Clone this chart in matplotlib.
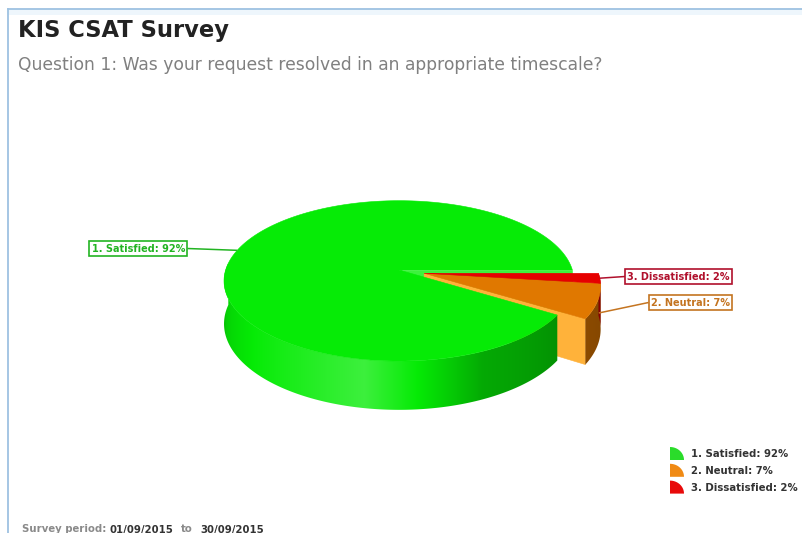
import numpy as np
import matplotlib
matplotlib.use("Agg")
import matplotlib.pyplot as plt
from matplotlib.patches import Polygon
from matplotlib.colors import to_rgb

# ---- data -------------------------------------------------------------
categories = ["1. Satisfied", "2. Neutral", "3. Dissatisfied"]
values = [92, 7, 2]
explode = [0.0, 0.15, 0.15]
slice_colors = ["#06EB06", "#E07800", "#E60000"]
cut_face_colors = ["#3CF23C", "#FFB23A", "#FF4A4A"]
label_colors = ["#22B422", "#C47420", "#B0102C"]
legend_colors = ["#2ADC2A", "#F08A14", "#E80A0A"]
title = "KIS CSAT Survey"
subtitle = "Question 1: Was your request resolved in an appropriate timescale?"
period_start = "01/09/2015"
period_end = "30/09/2015"

W, H = 803, 533
fig = plt.figure(figsize=(W / 100, H / 100), dpi=100)
ax = fig.add_axes([0, 0, 1, 1])
ax.axis("off")

# ---- simple perspective camera for the 3D pie ---------------------------
TILT = np.radians(27.0)
DIST = 6.57
FOCAL = 1139.0
CX, CY = 399.0, 270.0
THICK = 0.273
sT, cT = np.sin(TILT), np.cos(TILT)
CAM = np.array([0.0, DIST * cT, DIST * sT])


def project(X, Y, frac=0.0):
    """Project a point of the top face; frac moves it straight down the side
    (0 = top rim, 1 = bottom rim), keeping the side edges vertical."""
    X = np.asarray(X, float)
    Y = np.asarray(Y, float)
    depth = DIST - Y * cT
    sx = CX + FOCAL * X / depth
    sy = CY + FOCAL * Y * sT / depth + frac * FOCAL * THICK * cT / depth
    return sx, sy


def depth_of(X, Y):
    return DIST - Y * cT


def shade(color, f):
    rgb = np.array(to_rgb(color))
    if f < 0:
        return rgb * (1 + f)
    return rgb + (1 - rgb) * f


# wall lighting by angle (0 = right, 90 = front)
wall_theta = [0, 32, 65, 85, 100, 120, 150, 180]
wall_light = [-0.42, -0.38, -0.28, 0.0, 0.22, 0.10, -0.05, -0.20]

total = float(sum(values))
bounds = []
start = 360.0
for v in values:
    span = v / total * 360.0
    bounds.append((start - span, start))
    start -= span

exp_idx = [i for i, e in enumerate(explode) if e > 0]
lo = min(bounds[i][0] for i in exp_idx)
hi = max(bounds[i][1] for i in exp_idx)
mid = np.radians((lo + hi) / 2)
offsets = [(e * np.cos(mid), e * np.sin(mid)) for e in explode]

n = len(values)

# radial cut faces, painted back to front
faces = []
for i, (t0, t1) in enumerate(bounds):
    ox, oy = offsets[i]
    for t, sgn, nb in ((t0, -1, (i + 1) % n), (t1, +1, (i - 1) % n)):
        if offsets[nb] == offsets[i]:
            continue
        tr = np.radians(t)
        nr = np.radians(t + sgn * 90)
        normal = np.array([np.cos(nr), np.sin(nr), 0.0])
        cen = np.array([ox + 0.5 * np.cos(tr), oy + 0.5 * np.sin(tr), -THICK / 2])
        if normal @ (CAM - cen) <= 0:
            continue
        Xs = np.array([ox, ox + np.cos(tr), ox + np.cos(tr), ox])
        Ys = np.array([oy, oy + np.sin(tr), oy + np.sin(tr), oy])
        fr = np.array([0, 0, 1, 1])
        px, py = project(Xs, Ys, fr)
        faces.append((depth_of(cen[0], cen[1]), np.column_stack([px, py]),
                      cut_face_colors[i]))

faces.sort(key=lambda f: -f[0])
z = 2
for _, poly, col in faces:
    ax.add_patch(Polygon(poly, closed=True, fc=col, ec=col, lw=0.4, zorder=z))
    z += 0.01

# outer walls: gradient image clipped to the wall outline
for i, (t0, t1) in enumerate(bounds):
    ox, oy = offsets[i]
    a, b = max(t0, 0.0), min(t1, 185.0)
    if b <= a:
        continue
    ts = np.linspace(a, b, 400)
    tr = np.radians(ts)
    xt, yt = project(ox + np.cos(tr), oy + np.sin(tr), 0.0)
    xb, yb = project(ox + np.cos(tr), oy + np.sin(tr), 1.0)
    outline = np.column_stack([np.concatenate([xt, xb[::-1]]),
                               np.concatenate([yt, yb[::-1]])])
    clip = Polygon(outline, closed=True, fc="none", ec="none", transform=ax.transData)
    ax.add_patch(clip)
    x_lo, x_hi = outline[:, 0].min() - 1, outline[:, 0].max() + 1
    y_lo, y_hi = outline[:, 1].min() - 1, outline[:, 1].max() + 1
    cols_x = np.linspace(x_lo, x_hi, max(int((x_hi - x_lo) * 2), 4))
    front = ts <= 180.0
    order = np.argsort(xb[front])
    theta_at_x = np.interp(cols_x, xb[front][order], ts[front][order])
    light = np.interp(theta_at_x, wall_theta, wall_light)
    img = np.array([shade(slice_colors[i], f) for f in light])[None, :, :]
    im = ax.imshow(img, extent=(x_lo, x_hi, y_hi, y_lo), aspect="auto",
                   interpolation="bilinear", zorder=3)
    im.set_clip_path(clip)

# top faces
for i, (t0, t1) in enumerate(bounds):
    ox, oy = offsets[i]
    ts = np.radians(np.linspace(t0, t1, 240))
    Xs = np.concatenate([[ox], ox + np.cos(ts)])
    Ys = np.concatenate([[oy], oy + np.sin(ts)])
    px, py = project(Xs, Ys, 0.0)
    ax.add_patch(Polygon(np.column_stack([px, py]), closed=True,
                         fc=slice_colors[i], ec=slice_colors[i], lw=0.4, zorder=4))

ax.set_xlim(0, W)
ax.set_ylim(H, 0)

# ---- data labels with leader lines ------------------------------------
label_specs = [  # (box x edge, box y, anchor angle, anchor depth fraction, side)
    (188, 248.5, 195.0, 0.0, "right"),
    (733, 302.5, 17.0, 0.35, "left"),
    (733, 276.5, 3.5, 0.0, "left"),
]
fig.canvas.draw()
renderer = fig.canvas.get_renderer()
inv = ax.transData.inverted()
for i, (bx, by, ang, zf, side) in enumerate(label_specs):
    txt = ax.text(bx - 3, by, f"{categories[i]}: {values[i]}%", ha="right", va="center",
                  fontsize=7.0, fontweight="bold", color=label_colors[i], zorder=6,
                  bbox=dict(boxstyle="square,pad=0.25", fc="white",
                            ec=label_colors[i], lw=1.2))
    fig.canvas.draw()
    ext = txt.get_bbox_patch().get_window_extent(renderer)
    (x0, _), (x1, _) = inv.transform([[ext.x0, ext.y0], [ext.x1, ext.y1]])
    ox, oy = offsets[i]
    ar = np.radians(ang)
    axp, ayp = project(ox + np.cos(ar), oy + np.sin(ar), zf)
    ex = max(x0, x1) if side == "right" else min(x0, x1)
    ax.plot([ex, float(axp)], [by, float(ayp)], color=label_colors[i], lw=1.1,
            zorder=5, solid_capstyle="butt")

# ---- legend -----------------------------------------------------------
leg_x, leg_y0, leg_dy = 670, 453.5, 16.8
for i in range(n):
    y = leg_y0 + i * leg_dy
    t = np.radians(np.linspace(0, 90, 30))
    pts = np.column_stack([
        np.concatenate([[leg_x], leg_x + 14 * np.cos(t)]),
        np.concatenate([[y + 6.5], y + 6.5 - 13 * np.sin(t)]),
    ])
    ax.add_patch(Polygon(pts, closed=True, fc=legend_colors[i], ec="none", zorder=5))
    ax.text(leg_x + 21, y + 0.5, f"{categories[i]}: {values[i]}%", ha="left",
            va="center", fontsize=7.3, fontweight="bold", color="#333333", zorder=5)

# ---- titles, frame and footer -----------------------------------------
ax.text(18, 31, title, ha="left", va="center", fontsize=16.3, fontweight="bold",
        color="#222222")
ax.text(18, 65, subtitle, ha="left", va="center", fontsize=12.3, color="#808080")

ax.fill_between([8.5, W], 9, 15, color="#EEF6FC", lw=0, zorder=0)
ax.plot([8.5, W], [8.5, 8.5], color="#9EC2E2", lw=1.3, zorder=1)
ax.plot([8.5, 8.5], [8.5, H], color="#9EC2E2", lw=1.3, zorder=1)

fy = 529.5
ax.text(22, fy, "Survey period:", ha="left", va="center", fontsize=7.3,
        fontweight="bold", color="#8A8A8A")
ax.text(110, fy, period_start, ha="left", va="center", fontsize=7.3,
        fontweight="bold", color="#333333")
ax.text(181, fy, "to", ha="left", va="center", fontsize=7.3,
        fontweight="bold", color="#8A8A8A")
ax.text(200, fy, period_end, ha="left", va="center", fontsize=7.3,
        fontweight="bold", color="#333333")

ax.set_xlim(0, W)
ax.set_ylim(H, 0)
fig.savefig("out.png", dpi=100, facecolor="white")
